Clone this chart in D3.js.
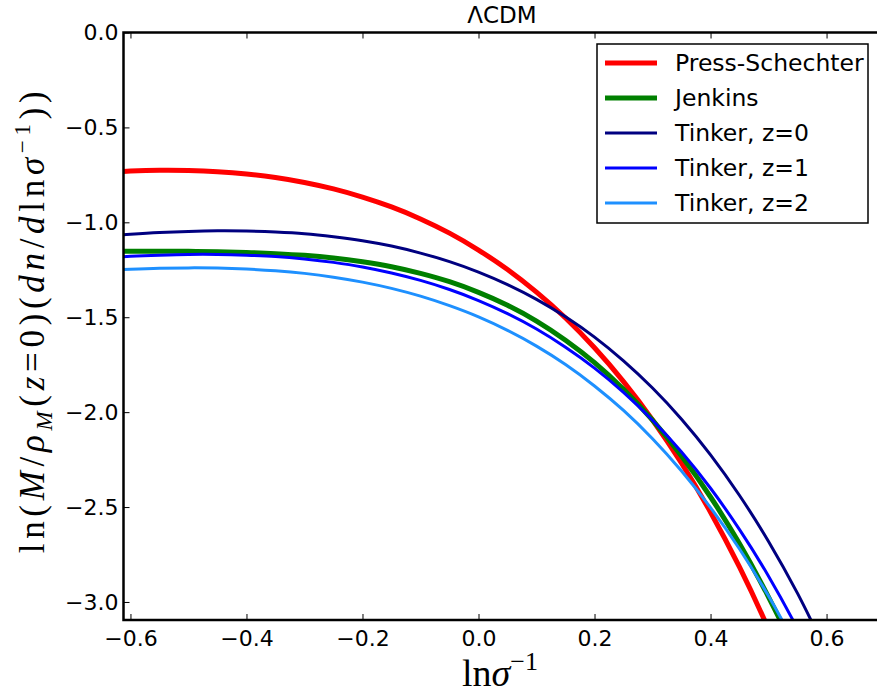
<!DOCTYPE html>
<html>
<head>
<meta charset="utf-8">
<script src="https://cdn.jsdelivr.net/npm/d3@7"></script>
<style>
  body { margin: 0; background: #fff; }
  svg { display: block; }
  .tick text { font-family: "DejaVu Sans", sans-serif; font-size: 22px; fill: #000; }
  .tick line { stroke: #000; stroke-width: 1px; }
</style>
</head>
<body>
<svg id="chart" width="877" height="694"></svg>
<script>
/* global d3 */

var lnSigmaInv = [-0.65, -0.6, -0.55, -0.5, -0.45, -0.4, -0.35, -0.3, -0.25, -0.2, -0.15, -0.1, -0.05,
                  0, 0.05, 0.1, 0.15, 0.2, 0.25, 0.3, 0.35, 0.4, 0.45, 0.5, 0.55, 0.6];
var pressSchechter = [-0.738, -0.730, -0.726, -0.727, -0.733, -0.745, -0.764, -0.790, -0.824, -0.867, -0.919, -0.982, -1.057,
                      -1.146, -1.249, -1.368, -1.504, -1.661, -1.839, -2.041, -2.269, -2.527, -2.817, -3.143, -3.509, -3.90];
var jenkins = [-1.152, -1.152, -1.152, -1.153, -1.155, -1.159, -1.165, -1.174, -1.188, -1.208, -1.234, -1.269, -1.313,
               -1.369, -1.437, -1.520, -1.621, -1.739, -1.879, -2.042, -2.231, -2.447, -2.694, -2.974, -3.289, -3.64];
var tinkerZ0 = [-1.074, -1.063, -1.054, -1.048, -1.045, -1.046, -1.051, -1.060, -1.076, -1.097, -1.125, -1.162, -1.207,
                -1.262, -1.328, -1.406, -1.498, -1.605, -1.730, -1.873, -2.037, -2.225, -2.439, -2.681, -2.955, -3.266];
var tinkerZ1 = [-1.188, -1.179, -1.173, -1.169, -1.169, -1.173, -1.180, -1.193, -1.211, -1.235, -1.267, -1.306, -1.354,
                -1.412, -1.481, -1.562, -1.658, -1.768, -1.896, -2.043, -2.210, -2.401, -2.619, -2.864, -3.142, -3.455];
var tinkerZ2 = [-1.254, -1.247, -1.242, -1.240, -1.241, -1.246, -1.255, -1.269, -1.289, -1.315, -1.348, -1.389, -1.439,
                -1.498, -1.569, -1.652, -1.749, -1.862, -1.991, -2.140, -2.310, -2.503, -2.721, -2.969, -3.249, -3.564];

var seriesNames = ['Press-Schechter', 'Jenkins', 'Tinker, z=0', 'Tinker, z=1', 'Tinker, z=2'];
var seriesColors = ['#ff0000', '#008000', '#000080', '#0000ff', '#1e90ff'];
var seriesWidths = [5, 5, 3, 3, 3];
var xTicks = [-0.6, -0.4, -0.2, 0.0, 0.2, 0.4, 0.6];
var yTicks = [0.0, -0.5, -1.0, -1.5, -2.0, -2.5, -3.0];

var svg = d3.select('#chart');
var margin = {top: 32.5, left: 123.5};
var width = 757, height = 587.5;

var x = d3.scaleLinear().domain([-0.612, 0.693]).range([0, width]);
var y = d3.scaleLinear().domain([-3.095, 0]).range([height, 0]);

var g = svg.append('g')
    .attr('transform', 'translate(' + margin.left + ',' + margin.top + ')');

g.append('clipPath').attr('id', 'plot-clip')
  .append('rect').attr('width', width).attr('height', height);

var series = [pressSchechter, jenkins, tinkerZ0, tinkerZ1, tinkerZ2].map(function (vals, i) {
  return {
    name: seriesNames[i],
    color: seriesColors[i],
    width: seriesWidths[i],
    points: lnSigmaInv.map(function (lx, j) { return [lx, vals[j]]; })
  };
});

var line = d3.line()
    .x(function (d) { return x(d[0]); })
    .y(function (d) { return y(d[1]); })
    .curve(d3.curveCatmullRom);

g.append('g').attr('clip-path', 'url(#plot-clip)')
  .selectAll('path')
  .data(series)
  .enter().append('path')
  .attr('d', function (s) { return line(s.points); })
  .attr('fill', 'none')
  .attr('stroke', function (s) { return s.color; })
  .attr('stroke-width', function (s) { return s.width; });

var fmt = d3.format('.1f');

g.append('g')
  .attr('transform', 'translate(0,' + height + ')')
  .call(d3.axisBottom(x).tickValues(xTicks).tickFormat(fmt).tickSizeInner(-6).tickSizeOuter(0).tickPadding(10))
  .call(function (a) { a.select('.domain').remove(); });

g.append('g')
  .call(d3.axisTop(x).tickValues(xTicks).tickFormat('').tickSizeInner(-6).tickSizeOuter(0))
  .call(function (a) { a.select('.domain').remove(); });

g.append('g')
  .call(d3.axisLeft(y).tickValues(yTicks).tickFormat(fmt).tickSizeInner(-6).tickSizeOuter(0).tickPadding(5))
  .call(function (a) { a.select('.domain').remove(); });

g.append('rect')
  .attr('width', width).attr('height', height)
  .attr('fill', 'none').attr('stroke', '#000').attr('stroke-width', 2.5);

// title
svg.append('text')
  .attr('x', margin.left + width / 2).attr('y', 23)
  .attr('text-anchor', 'middle')
  .style('font-family', '"DejaVu Sans", sans-serif').style('font-size', '23px')
  .text('ΛCDM');

// x label
var xl = svg.append('text')
  .attr('x', margin.left + width / 2 - 2).attr('y', 686)
  .attr('text-anchor', 'middle')
  .style('font-family', '"Liberation Serif", serif').style('font-size', '38px');
xl.append('tspan').text('ln');
xl.append('tspan').style('font-style', 'italic').text('σ');
xl.append('tspan').attr('dy', -16).style('font-size', '26px').text('−1');

// y label
var yl = svg.append('text')
  .attr('transform', 'translate(44,' + (margin.top + height / 2 - 4) + ') rotate(-90)')
  .attr('text-anchor', 'middle')
  .attr('textLength', 462).attr('lengthAdjust', 'spacing')
  .style('font-family', '"Liberation Serif", serif').style('font-size', '35px');
var yparts = [
  ['ln(', 'normal', 0, null], ['M', 'italic', 0, null], ['/', 'normal', 0, null], ['ρ', 'italic', 0, null],
  ['M', 'italic', 8, '23px'], ['(', 'normal', -8, null], ['z', 'italic', 0, null], ['=0)(', 'normal', 0, null],
  ['dn', 'italic', 0, null], ['/', 'normal', 0, null], ['d', 'italic', 0, null], ['ln', 'normal', 0, null],
  ['σ', 'italic', 0, null], ['−1', 'normal', -14, '23px'], ['))', 'normal', 14, null]
];
yparts.forEach(function (p) {
  var t = yl.append('tspan').attr('dy', p[2]).style('font-style', p[1]).text(p[0]);
  if (p[3]) t.style('font-size', p[3]);
});

// legend
var legend = svg.append('g').attr('transform', 'translate(597,44)');
legend.append('rect')
  .attr('width', 271).attr('height', 179)
  .attr('fill', '#fff').attr('stroke', '#000').attr('stroke-width', 1.5);
var item = legend.selectAll('.item')
  .data(series)
  .enter().append('g')
  .attr('transform', function (d, i) { return 'translate(0,' + (19 + i * 35) + ')'; });
item.append('line')
  .attr('x1', 8).attr('x2', 60)
  .attr('stroke', function (d) { return d.color; })
  .attr('stroke-width', function (d) { return d.width; });
item.append('text')
  .attr('x', 78).attr('y', 8)
  .style('font-family', '"DejaVu Sans", sans-serif').style('font-size', '23.5px')
  .text(function (d) { return d.name; });
</script>
</body>
</html>
